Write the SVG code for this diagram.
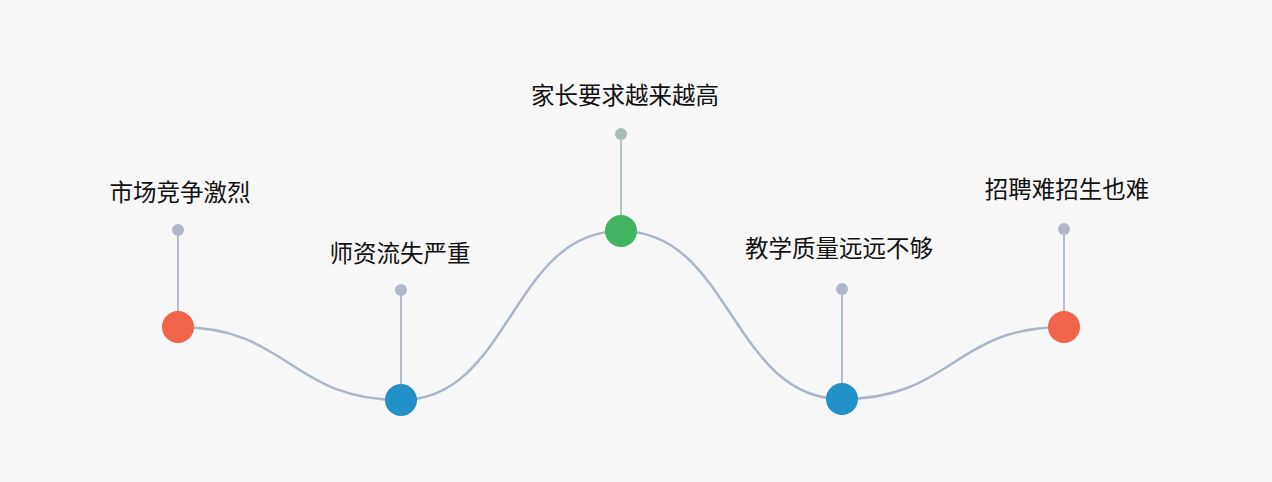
<svg xmlns="http://www.w3.org/2000/svg" width="1272" height="482" viewBox="0 0 1272 482">
<style>
.lbl{font-family:"Noto Sans CJK SC","Noto Sans",sans-serif;font-size:23.5px;fill:#111;text-anchor:middle}
.stem{stroke:#b3bdcc;stroke-width:2}
.dot{fill:#aeb8c8}
.curve{fill:none;stroke:#aab6c9;stroke-width:2.5}
.red{fill:#f2644a}
.blue{fill:#2291c8}
.green{fill:#41b461}
</style>
<rect width="1272" height="482" fill="#f7f7f7"/>
<g id="connectors">
<path class="curve" d="M178,327 C289,327 290,400 401,400 C511,400 511,231 621,231 C731,231 732,399 842,399 C953,399 953,327 1064,327"/>
</g>
<g id="node1">
<line class="stem" x1="178" y1="230" x2="178" y2="327"/>
<circle class="dot" cx="178" cy="230" r="6"/>
<circle class="red" cx="178" cy="327" r="16"/>
<text class="lbl" x="180" y="201">市场竞争激烈</text>
</g>
<g id="node2">
<line class="stem" x1="401" y1="290" x2="401" y2="400"/>
<circle class="dot" cx="401" cy="290" r="6"/>
<circle class="blue" cx="401" cy="400" r="16"/>
<text class="lbl" x="400" y="262">师资流失严重</text>
</g>
<g id="node3">
<line class="stem" x1="621" y1="134" x2="621" y2="231" style="stroke:#b2c7bd"/>
<circle class="dot" cx="621" cy="134" r="6" style="fill:#a9bdb3"/>
<circle class="green" cx="621" cy="231" r="16"/>
<text class="lbl" x="625" y="104">家长要求越来越高</text>
</g>
<g id="node4">
<line class="stem" x1="842" y1="289" x2="842" y2="399"/>
<circle class="dot" cx="842" cy="289" r="6"/>
<circle class="blue" cx="842" cy="399" r="16"/>
<text class="lbl" x="839" y="257">教学质量远远不够</text>
</g>
<g id="node5">
<line class="stem" x1="1064" y1="229" x2="1064" y2="327"/>
<circle class="dot" cx="1064" cy="229" r="6"/>
<circle class="red" cx="1064" cy="327" r="16"/>
<text class="lbl" x="1067" y="198">招聘难招生也难</text>
</g>
</svg>
